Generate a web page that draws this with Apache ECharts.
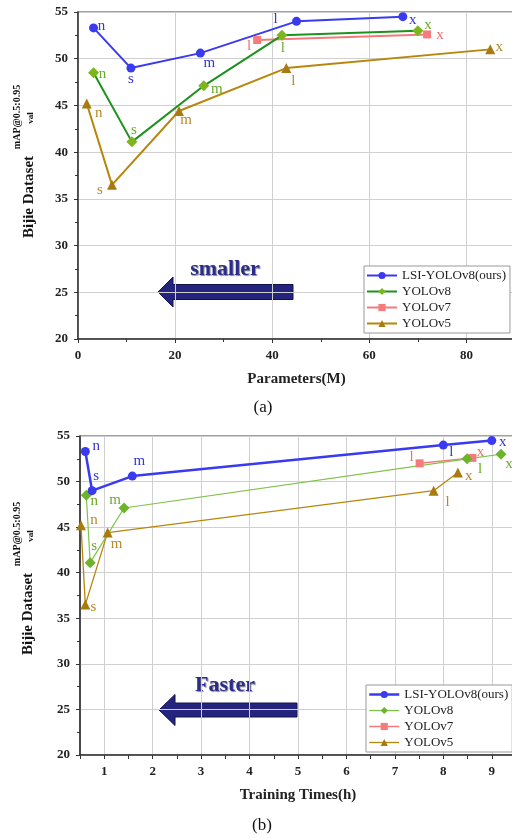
<!DOCTYPE html>
<html>
<head>
<meta charset="utf-8">
<script src="https://cdn.jsdelivr.net/npm/echarts@6/dist/echarts.min.js"></script>
<style>
html, body { margin: 0; padding: 0; background: #fff; }
#main { width: 512px; height: 838px; }
</style>
</head>
<body>
<div id="main"></div>
<script>
var names = ['LSI-YOLOv8(ours)', 'YOLOv8', 'YOLOv7', 'YOLOv5'];
var sizeTags = ['n', 's', 'm', 'l', 'x'];
var v7Tags = ['l', 'x'];

// mAP@0.5:0.95 on Bijie val
var mapLSI = [53.3, 49.0, 50.6, 54.0, 54.5];
var mapV8 = [48.5, 41.1, 47.1, 52.5, 53.0];
var mapV7 = [52.0, 52.6];
var mapV5 = [45.2, 36.5, 44.4, 49.0, 51.0];

// Parameters(M)
var paramLSI = [3.2, 10.9, 25.2, 45.0, 66.9];
var paramV8 = [3.2, 11.1, 25.9, 42.0, 70.0];
var paramV7 = [36.9, 71.9];
var paramV5 = [1.8, 7.0, 20.8, 42.9, 84.9];

// Training Times(h)
var timeLSI = [0.61, 0.75, 1.58, 8.0, 9.0];
var timeV8 = [0.63, 0.71, 1.41, 8.49, 9.19];
var timeV7 = [7.51, 8.6];
var timeV5 = [0.52, 0.61, 1.07, 7.8, 8.3];

var serif = 'Liberation Serif';

// where each n/s/m/l/x tag sits next to its point (px)
var offA = {
    lsi: [[8, -2], [0, 11], [9, 10], [-21, -2], [10, 3]],
    v8: [[9, 1], [2, -12], [13, 3], [1, 13], [10, -6]],
    v7: [[-8, 6], [13, 1]],
    v5: [[12, 10], [-12, 5], [7, 9], [7, 13], [9, -2]]
};
var offB = {
    lsi: [[11, -5], [4, -15], [7, -15], [8, 7], [11, 2]],
    v8: [[8, 6], [4, -17], [-9, -8], [13, 10], [8, 10]],
    v7: [[-8, -6], [8, -6]],
    v5: [[13, -5], [8, 2], [9, 11], [14, 11], [11, 4]]
};

var stA = {
    lsi: {symbol: 'circle', size: 9, line: '#3a3af0', width: 2, mark: '#3a3af0', text: '#3535d8'},
    v8: {symbol: 'diamond', size: 11, line: '#1b921b', width: 2, mark: '#7cb51c', text: '#6aa82a'},
    v7: {symbol: 'rect', size: 8, line: '#f27a7a', width: 2, mark: '#f47c7c', text: '#ee7070'},
    v5: {symbol: 'triangle', size: 10, line: '#b8860b', width: 2, mark: '#a87a10', text: '#b58a2a'}
};
var stB = {
    lsi: {symbol: 'circle', size: 9, line: '#3a3af0', width: 2.5, mark: '#3a3af0', text: '#3535d8'},
    v8: {symbol: 'diamond', size: 11, line: '#7fc24a', width: 1.2, mark: '#6cb52a', text: '#6aa82a'},
    v7: {symbol: 'rect', size: 8, line: '#f27a7a', width: 1.5, mark: '#f47c7c', text: '#ee7070'},
    v5: {symbol: 'triangle', size: 10, line: '#b8860b', width: 1.3, mark: '#a87a10', text: '#b58a2a'}
};

function mkSeries(name, xs, ys, tags, offs, st, idx) {
    var data = xs.map(function (x, i) {
        return {value: [x, ys[i]], name: tags[i], label: {offset: offs[i]}};
    });
    return {
        type: 'line',
        name: name,
        xAxisIndex: idx,
        yAxisIndex: idx,
        data: data,
        symbol: st.symbol,
        symbolSize: st.size,
        showAllSymbol: true,
        lineStyle: {color: st.line, width: st.width},
        itemStyle: {color: st.mark},
        label: {
            show: true, position: 'inside', formatter: '{b}',
            color: st.text, fontFamily: serif, fontSize: 15,
            align: 'center', verticalAlign: 'middle'
        },
        emphasis: {disabled: true}
    };
}

function axisBase() {
    return {
        axisLine: {onZero: false, lineStyle: {color: '#333', width: 1.5}},
        axisTick: {inside: false, length: 4, lineStyle: {color: '#333'}},
        axisLabel: {fontFamily: serif, fontWeight: 'bold', fontSize: 13, color: '#222', margin: 10},
        splitLine: {show: true, lineStyle: {color: '#d0d0d0', width: 1}},
        nameTextStyle: {fontFamily: serif, fontWeight: 'bold', fontSize: 15, color: '#222'}
    };
}

function legendFor(left, top, st) {
    var keys = ['lsi', 'v8', 'v7', 'v5'];
    return {
        orient: 'vertical',
        left: left,
        top: top,
        padding: [3, 4, 3, 2],
        itemGap: 3,
        itemWidth: 30,
        itemHeight: 9,
        backgroundColor: '#fff',
        borderColor: '#999',
        borderWidth: 1,
        borderRadius: 0,
        selectedMode: false,
        textStyle: {fontFamily: serif, fontSize: 13, color: '#222', lineHeight: 13},
        data: names.map(function (n, i) {
            var s = st[keys[i]];
            return {name: n, itemStyle: {color: s.mark}, lineStyle: {color: s.line, width: s.width}};
        })
    };
}

function yTitle(cx, cy1, cy2, cy3) {
    return [
        {type: 'text', x: cx, y: cy1, rotation: Math.PI / 2,
            style: {text: 'Bijie Dataset', font: 'bold 15px ' + serif, fill: '#111', align: 'center', verticalAlign: 'middle'}},
        {type: 'text', x: 17.5, y: cy2, rotation: Math.PI / 2,
            style: {text: 'mAP@0.5:0.95', font: 'bold 10px ' + serif, fill: '#111', align: 'center', verticalAlign: 'middle'}},
        {type: 'text', x: 30.5, y: cy3, rotation: Math.PI / 2,
            style: {text: 'val', font: 'bold 9px ' + serif, fill: '#111', align: 'center', verticalAlign: 'middle'}}
    ];
}

function arrow(tipX, tailX, cy, headH, bodyH, headL) {
    return {
        type: 'polygon',
        shape: {points: [
            [tipX, cy], [tipX + headL, cy - headH], [tipX + headL, cy - bodyH],
            [tailX, cy - bodyH], [tailX, cy + bodyH], [tipX + headL, cy + bodyH],
            [tipX + headL, cy + headH]
        ]},
        style: {fill: '#24247f', stroke: '#12124e', lineWidth: 1}
    };
}

function bigWord(txt, x, y) {
    return {type: 'text', x: x, y: y,
        style: {text: txt, font: 'bold 22px ' + serif, fill: '#2c2c8a', align: 'center', verticalAlign: 'middle',
            textShadowColor: 'rgba(60,60,60,0.6)', textShadowOffsetX: 1, textShadowOffsetY: 1, textShadowBlur: 1}};
}

var xA = axisBase();
xA.gridIndex = 0; xA.type = 'value'; xA.min = 0; xA.max = 90; xA.interval = 20;
xA.minorTick = {show: true, splitNumber: 2, length: 3, lineStyle: {color: '#333'}};
xA.axisLabel.showMaxLabel = false;
xA.name = 'Parameters(M)'; xA.nameLocation = 'middle'; xA.nameGap = 33;

var yA = axisBase();
yA.gridIndex = 0; yA.type = 'value'; yA.min = 20; yA.max = 55; yA.interval = 5;
yA.minorTick = {show: true, splitNumber: 2, length: 3, lineStyle: {color: '#333'}};

var xB = axisBase();
xB.gridIndex = 1; xB.type = 'value'; xB.min = 0.5; xB.max = 9.5; xB.interval = 0.5;
xB.axisLabel.formatter = function (v) { return Math.abs(v - Math.round(v)) < 1e-6 && v < 9.5 ? String(Math.round(v)) : ''; };
xB.splitLine.lineStyle.color = ['rgba(0,0,0,0)', '#d0d0d0'];
xB.name = 'Training Times(h)'; xB.nameLocation = 'middle'; xB.nameGap = 33;

var yB = axisBase();
yB.gridIndex = 1; yB.type = 'value'; yB.min = 20; yB.max = 55; yB.interval = 5;
yB.minorTick = {show: true, splitNumber: 2, length: 3, lineStyle: {color: '#333'}};

var chart = echarts.init(document.getElementById('main'));
chart.setOption({
    animation: false,
    backgroundColor: '#fff',
    grid: [
        {left: 78, top: 12, right: -3, height: 327, show: true, borderColor: '#444', borderWidth: 1.2, outerBoundsMode: 'none'},
        {left: 80, top: 436, right: -4, height: 319, show: true, borderColor: '#444', borderWidth: 1.2, outerBoundsMode: 'none'}
    ],
    xAxis: [xA, xB],
    yAxis: [yA, yB],
    legend: [legendFor(364, 266, stA), legendFor(366, 685, stB)],
    series: [
        mkSeries(names[3], paramV5, mapV5, sizeTags, offA.v5, stA.v5, 0),
        mkSeries(names[2], paramV7, mapV7, v7Tags, offA.v7, stA.v7, 0),
        mkSeries(names[1], paramV8, mapV8, sizeTags, offA.v8, stA.v8, 0),
        mkSeries(names[0], paramLSI, mapLSI, sizeTags, offA.lsi, stA.lsi, 0),
        mkSeries(names[3], timeV5, mapV5, sizeTags, offB.v5, stB.v5, 1),
        mkSeries(names[2], timeV7, mapV7, v7Tags, offB.v7, stB.v7, 1),
        mkSeries(names[1], timeV8, mapV8, sizeTags, offB.v8, stB.v8, 1),
        mkSeries(names[0], timeLSI, mapLSI, sizeTags, offB.lsi, stB.lsi, 1)
    ],
    graphic: [].concat(
        yTitle(29, 197, 117, 118),
        yTitle(28, 614, 534, 536),
        [
            arrow(158, 293, 292, 15, 7.5, 15),
            arrow(159, 297, 710, 15.5, 7, 16),
            bigWord('smaller', 225, 269),
            bigWord('Faster', 225, 685),
            {type: 'text', x: 263, y: 408, style: {text: '(a)', font: '17px ' + serif, fill: '#111', align: 'center', verticalAlign: 'middle'}},
            {type: 'text', x: 262, y: 826, style: {text: '(b)', font: '17px ' + serif, fill: '#111', align: 'center', verticalAlign: 'middle'}}
        ]
    )
});
</script>
</body>
</html>
